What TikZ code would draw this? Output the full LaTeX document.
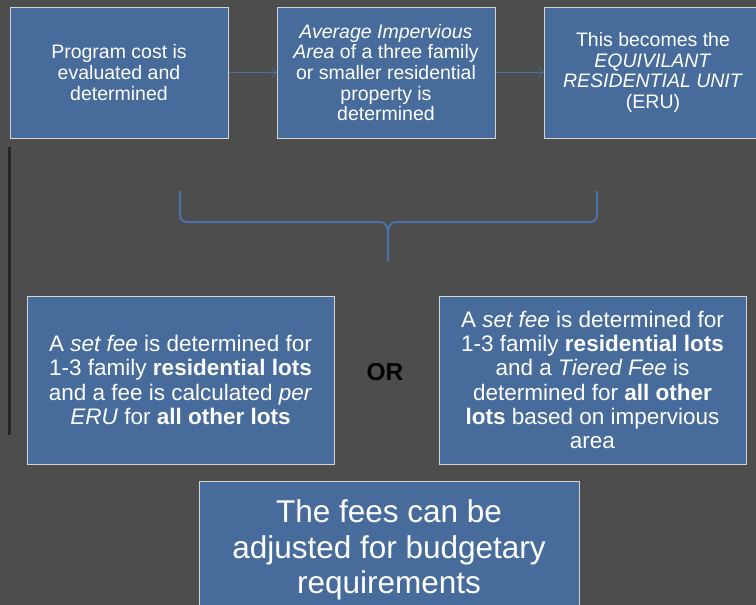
\documentclass[tikz,border=0pt]{standalone}
\usepackage{fontspec}
\setmainfont{Liberation Sans}
\usetikzlibrary{arrows.meta}
\definecolor{bg}{HTML}{4D4D4D}
\definecolor{boxfill}{HTML}{476C9B}
\definecolor{boxline}{HTML}{D4D4D4}
\definecolor{conn}{HTML}{4A6E9E}
\definecolor{bracec}{HTML}{4A72AA}
\definecolor{sideline}{HTML}{262626}
\tikzset{
  panel/.style={draw=boxline, line width=1pt, fill=boxfill, text=white, inner sep=0pt, align=center},
  toptxt/.style={font=\fontsize{19.5}{20.7}\selectfont},
  midtxt/.style={font=\fontsize{22.5}{24.3}\selectfont},
  bigtxt/.style={font=\fontsize{31.5}{35.5}\selectfont},
  flow/.style={draw=conn, line width=0.75pt, -{Straight Barb[length=4pt,width=10pt]}}
}
\begin{document}
\begin{tikzpicture}[x=1pt,y=-1pt]
\useasboundingbox (0,0) rectangle (756,605);
\clip (0,0) rectangle (756,605);
\fill[bg] (0,0) rectangle (756,605);
% side line
\coordinate (s1) at (9,147);
\coordinate (s2) at (9,435);
\draw[sideline, line width=3pt] (s1) -- (s2);
% top boxes
\node[panel, toptxt, minimum width=218pt, minimum height=131pt] (b1) at (119,72.5)
  {Program cost is\\evaluated and\\determined};
\node[panel, toptxt, minimum width=218pt, minimum height=131pt] (b2) at (386,72.5)
  {\textit{Average Impervious}\\\textit{Area} of a three family\\or smaller residential\\property is\\determined};
\node[panel, toptxt, minimum width=218pt, minimum height=131pt] (b3) at (653,72.5)
  {This becomes the\\\textit{EQUIVILANT}\\\textit{RESIDENTIAL UNIT}\\(ERU)};
\draw[flow] (b1.east) -- (b2.west);
\draw[flow] (b2.east) -- (b3.west);
% brace
\draw[bracec, line width=2pt, line join=round]
  (180,191) -- (180,213) .. controls (180,220) and (182,222) .. (188,222)
  -- (379,222) .. controls (386,222) and (388,226) .. (388,236) -- (388,261);
\draw[bracec, line width=2pt, line join=round]
  (597,191) -- (597,213) .. controls (597,220) and (595,222) .. (589,222)
  -- (397,222) .. controls (390,222) and (388,226) .. (388,236);
% middle boxes
\node[panel, midtxt, minimum width=307pt, minimum height=168pt] (b4) at (180.5,380)
  {A \textit{set fee} is determined for\\1-3 family \textbf{residential lots}\\and a fee is calculated \textit{per}\\\textit{ERU} for \textbf{all other lots}};
\node[panel, midtxt, minimum width=307pt, minimum height=168pt] (b5) at (592.5,380)
  {A \textit{set fee} is determined for\\1-3 family \textbf{residential lots}\\and a \textit{Tiered Fee} is\\determined for \textbf{all other}\\\textbf{lots} based on impervious\\area};
\node[font=\fontsize{24.5}{28}\selectfont\bfseries, text=black] (or) at (385,372) {OR};
% bottom box
\node[panel, bigtxt, minimum width=380pt, minimum height=138pt] (b6) at (389,550)
  {The fees can be\\adjusted for budgetary\\requirements};
\end{tikzpicture}
\end{document}
